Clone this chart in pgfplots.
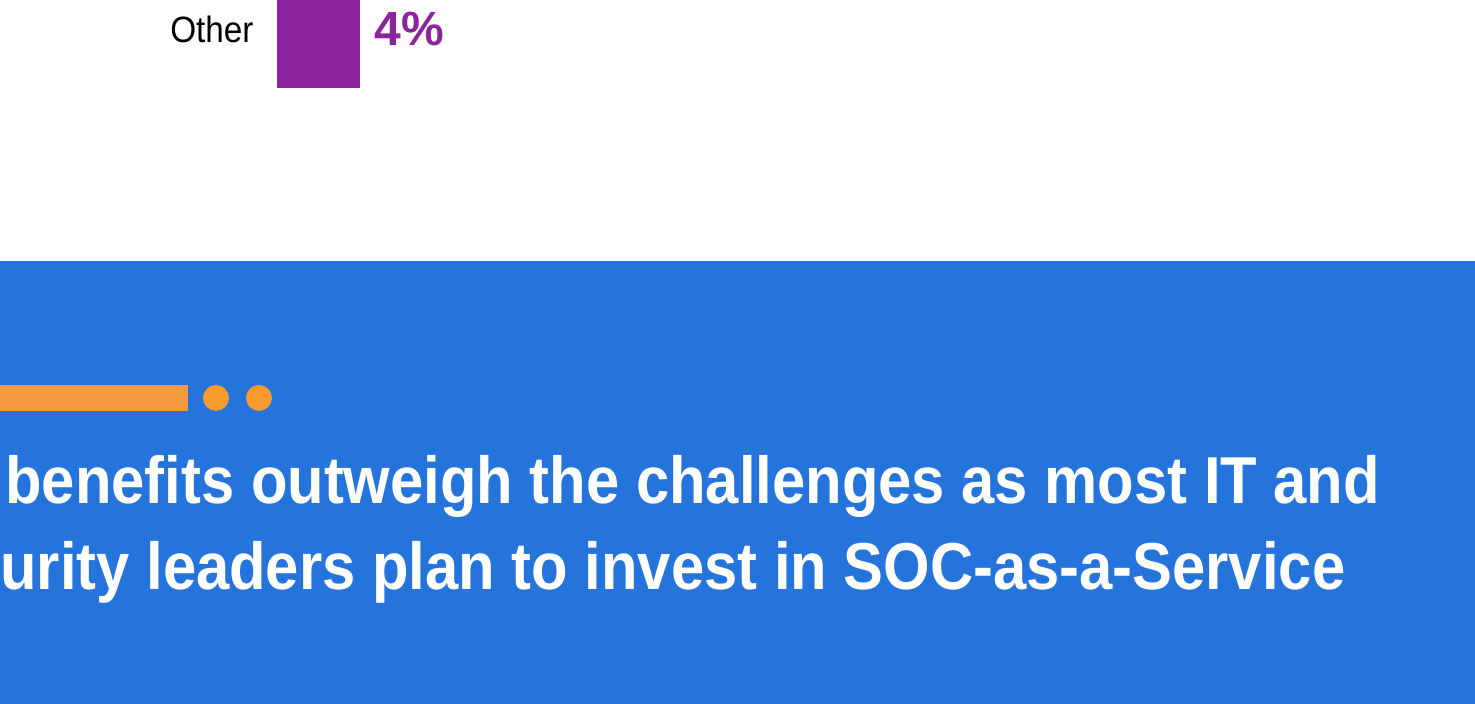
\documentclass[border=0pt]{standalone}
\usepackage{pgfplots}
\pgfplotsset{compat=1.18}
\usepackage{fontspec}
\setmainfont{Liberation Sans}
\newfontfamily\bannerfont[FakeStretch=0.90]{Liberation Sans}
\newfontfamily\labelfont[FakeStretch=0.91]{Liberation Sans}
\definecolor{barpurple}{RGB}{139,36,157}
\definecolor{bannerblue}{RGB}{37,116,219}
\definecolor{orangebar}{RGB}{245,154,62}
\definecolor{orangedot}{RGB}{248,154,44}
\begin{document}
\begin{tikzpicture}
% page frame in pixel units (1px = 0.5pt), y grows downwards
\begin{scope}[x=0.5pt,y=-0.5pt]
\clip (0,0) rectangle (1475,704);
\fill[white] (0,0) rectangle (1475,704);
\fill[bannerblue] (0,261) rectangle (1475,704);
\fill[orangebar] (0,385) rectangle (188,411);
\fill[orangedot] (216,398) circle (13);
\fill[orangedot] (259,398) circle (13);
\node[anchor=base west, inner sep=0pt, text=white, font=\bannerfont\fontsize{33.2pt}{40pt}\selectfont\bfseries]
  at (5,504) {benefits outweigh the challenges as most IT and};
\node[anchor=base west, inner sep=0pt, text=white, font=\bannerfont\fontsize{33.2pt}{40pt}\selectfont\bfseries]
  at (0,590) {urity leaders plan to invest in SOC-as-a-Service};
\end{scope}
\begin{axis}[
    at={(138.5pt,-130.5pt)}, anchor=south west,
    scale only axis,
    width=599pt, height=130.5pt,
    xbar,
    bar width=118,
    xmin=0, xmax=57.73,
    ymin=-261, ymax=0,
    axis line style={draw=none},
    major tick length=0pt,
    xtick=\empty,
    ytick={-29},
    yticklabels={Other},
    y tick label style={font=\labelfont\fontsize{18.3pt}{22pt}\selectfont, inner sep=0pt, xshift=-11.5pt},
    /pgf/number format/assume math mode=true,
    nodes near coords={\pgfmathprintnumber{\pgfplotspointmeta}\%},
    nodes near coords style={font=\fontsize{24pt}{29pt}\selectfont\bfseries, text=barpurple, anchor=west, inner sep=0pt, xshift=7pt},
    point meta=x,
]
\addplot[fill=barpurple, draw=none] coordinates {(4,-29)};
\end{axis}
\end{tikzpicture}
\end{document}
